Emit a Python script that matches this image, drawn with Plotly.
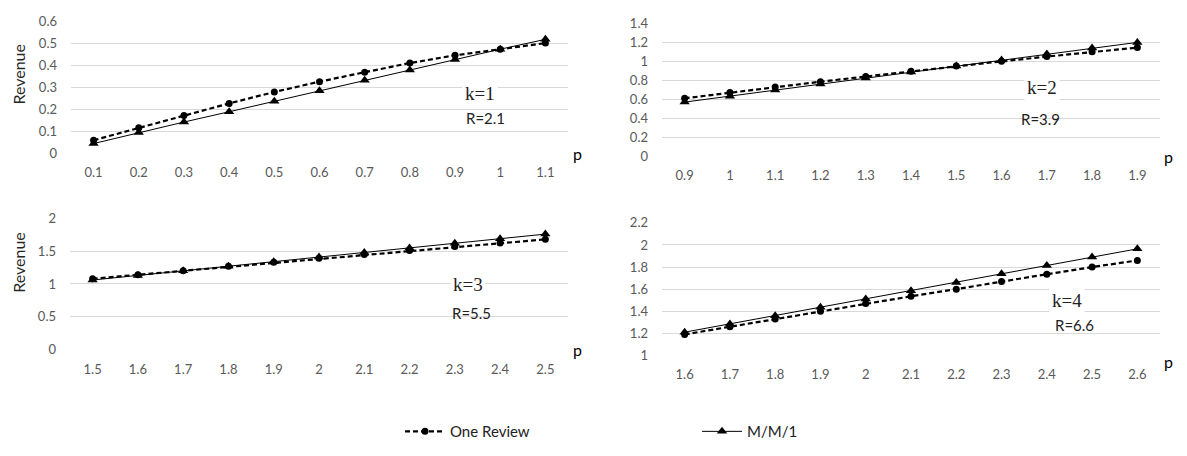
import plotly.graph_objects as go

# ---------------- data ----------------
p1 = ["0.1", "0.2", "0.3", "0.4", "0.5", "0.6", "0.7", "0.8", "0.9", "1", "1.1"]
one_review_1 = [0.060, 0.117, 0.173, 0.228, 0.280, 0.327, 0.370, 0.412, 0.447, 0.475, 0.503]
mm1_1 = [0.045, 0.095, 0.143, 0.190, 0.238, 0.286, 0.333, 0.380, 0.428, 0.475, 0.520]

p2 = ["0.9", "1", "1.1", "1.2", "1.3", "1.4", "1.5", "1.6", "1.7", "1.8", "1.9"]
one_review_2 = [0.610, 0.670, 0.730, 0.785, 0.840, 0.895, 0.950, 1.000, 1.050, 1.100, 1.145]
mm1_2 = [0.570, 0.633, 0.697, 0.760, 0.823, 0.887, 0.950, 1.013, 1.077, 1.140, 1.200]

p3 = ["1.5", "1.6", "1.7", "1.8", "1.9", "2", "2.1", "2.2", "2.3", "2.4", "2.5"]
one_review_3 = [1.08, 1.14, 1.20, 1.27, 1.33, 1.39, 1.45, 1.51, 1.57, 1.625, 1.68]
mm1_3 = [1.06, 1.13, 1.20, 1.27, 1.34, 1.41, 1.48, 1.55, 1.62, 1.69, 1.76]

p4 = ["1.6", "1.7", "1.8", "1.9", "2", "2.1", "2.2", "2.3", "2.4", "2.5", "2.6"]
one_review_4 = [1.19, 1.26, 1.33, 1.40, 1.47, 1.535, 1.60, 1.67, 1.735, 1.80, 1.86]
mm1_4 = [1.21, 1.285, 1.36, 1.435, 1.51, 1.585, 1.66, 1.74, 1.815, 1.89, 1.965]

k_labels = ["k=1", "k=2", "k=3", "k=4"]
r_labels = ["R=2.1", "R=3.9", "R=5.5", "R=6.6"]
series_names = ["One Review", "M/M/1"]

# ---------------- layout helpers ----------------
W, H = 1187, 456
FONT = "Lato, 'Open Sans', sans-serif"
GRID = "#d9d9d9"
TICK = "#595959"

def px_x(v):
    return v / W

def px_y(v):
    return 1 - v / H

panels = [
    (p1, one_review_1, mm1_1, (71, 568), (150.7, 14.3), [0, 0.6], 0.1),
    (p2, one_review_2, mm1_2, (662, 1160), (153.5, 16.0), [0, 1.4], 0.2),
    (p3, one_review_3, mm1_3, (70, 568), (354.0, 218.0), [0, 2.0], 0.5),
    (p4, one_review_4, mm1_4, (662, 1160), (360.0, 222.7), [1.0, 2.2], 0.2),
]

fig = go.Figure()
layout = {}
for i, (xs, one, mm, xd, yd, yr, dt) in enumerate(panels):
    n = "" if i == 0 else str(i + 1)
    xa, ya = "x" + n, "y" + n
    fig.add_trace(go.Scatter(
        x=xs, y=one, xaxis=xa, yaxis=ya, name=series_names[0], legendgroup="a",
        showlegend=(i == 0), mode="lines+markers", cliponaxis=False,
        line=dict(color="black", width=2.2, dash="5px,3px"),
        marker=dict(symbol="circle", size=7, color="black")))
    fig.add_trace(go.Scatter(
        x=xs, y=mm, xaxis=xa, yaxis=ya, name=series_names[1], legendgroup="b",
        showlegend=(i == 0), mode="lines+markers", cliponaxis=False,
        line=dict(color="black", width=1),
        marker=dict(symbol="triangle-up", size=9, color="black")))
    layout["xaxis" + n] = dict(
        domain=[px_x(xd[0]), px_x(xd[1])], anchor=ya, type="category",
        range=[-0.5, len(xs) - 0.5], showgrid=False, zeroline=False,
        showline=False, ticks="", ticklabelstandoff=10,
        tickfont=dict(family=FONT, size=13, color=TICK))
    layout["yaxis" + n] = dict(
        domain=[px_y(yd[0]), px_y(yd[1])], anchor=xa, range=yr, dtick=dt,
        tick0=yr[0], showgrid=True, gridcolor=GRID, gridwidth=1,
        zeroline=False, showline=False, ticks="", ticklabelstandoff=13,
        tickfont=dict(family=FONT, size=13, color=TICK))

annotations = []
k_pos = [(480, 89), (1042, 82), (468, 287), (1067, 303)]
r_pos = [(485, 114), (1040, 115), (471, 316), (1074, 329)]
for i in range(4):
    annotations.append(dict(
        x=px_x(k_pos[i][0]), y=px_y(k_pos[i][1]), xref="paper", yref="paper",
        xanchor="center", yanchor="middle",
        text=k_labels[i], showarrow=False, bgcolor="white", borderpad=2,
        font=dict(family="'Liberation Serif', 'DejaVu Serif', serif", size=19, color="#222222")))
    annotations.append(dict(
        x=px_x(r_pos[i][0]), y=px_y(r_pos[i][1]), xref="paper", yref="paper",
        xanchor="center", yanchor="middle",
        text=r_labels[i], showarrow=False, borderpad=0,
        font=dict(family=FONT, size=15, color="#222222")))
for (x, y) in [(577, 151), (1168, 154), (577, 354), (1168, 366)]:
    annotations.append(dict(
        x=px_x(x), y=px_y(y), xref="paper", yref="paper", text="p",
        xanchor="center", yanchor="middle",
        showarrow=False, font=dict(family=FONT, size=16, color="black")))
for (x, y) in [(19, 68), (19, 263)]:
    annotations.append(dict(
        x=px_x(x), y=px_y(y), xref="paper", yref="paper", text="Revenue",
        xanchor="center", yanchor="middle",
        textangle=-90, showarrow=False,
        font=dict(family=FONT, size=16, color="#262626")))

fig.update_layout(
    width=W, height=H, margin=dict(l=0, r=0, t=0, b=0),
    plot_bgcolor="white", paper_bgcolor="white",
    annotations=annotations,
    legend=dict(orientation="h", x=px_x(400), y=px_y(439), xanchor="left",
                yanchor="middle", entrywidth=242, entrywidthmode="pixels",
                font=dict(family=FONT, size=15, color="#222222"),
                bgcolor="rgba(0,0,0,0)", itemwidth=40),
    **layout)

fig.write_html("out.html")
